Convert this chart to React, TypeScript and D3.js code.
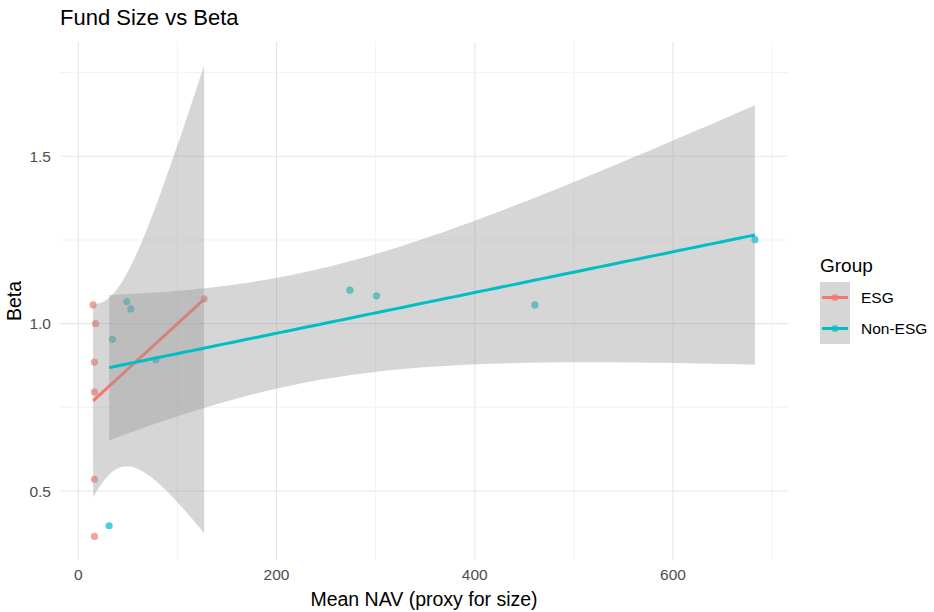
import React, { useEffect, useRef } from 'react';
import * as d3 from 'd3';

// values
const esgNav = [14.9, 17.4, 16.3, 16.3, 16.3, 16.3, 126.9];
const esgBeta = [1.056, 1.0, 0.885, 0.796, 0.535, 0.364, 1.074];
const nonEsgNav = [48.9, 53.0, 34.5, 78.2, 31.1, 274.0, 300.9, 460.6, 682.6];
const nonEsgBeta = [1.066, 1.044, 0.953, 0.892, 0.396, 1.1, 1.083, 1.056, 1.251];

const groups = ['ESG', 'Non-ESG'];
const groupColors = ['#F8766D', '#00BFC4'];
const xTicks = [0, 200, 400, 600];
const xMinor = [100, 300, 500, 700];
const yTicks = [0.5, 1.0, 1.5];
const yMinor = [0.75, 1.25, 1.75];
// 97.5% t quantiles by degrees of freedom
const tQuantile: Record<number, number> = { 5: 2.570582, 7: 2.364624 };

const W = 934;
const H = 612;
const FONT = '"Liberation Sans", Arial, sans-serif';

function lmFit(xs: number[], ys: number[]) {
  const n = xs.length;
  const mx = d3.mean(xs)!;
  const my = d3.mean(ys)!;
  let sxx = 0;
  let sxy = 0;
  xs.forEach((x, i) => {
    sxx += (x - mx) * (x - mx);
    sxy += (x - mx) * (ys[i] - my);
  });
  const b = sxy / sxx;
  const a = my - b * mx;
  let ss = 0;
  xs.forEach((x, i) => {
    const r = ys[i] - (a + b * x);
    ss += r * r;
  });
  const sigma = Math.sqrt(ss / (n - 2));
  const t = tQuantile[n - 2];
  const [x0, x1] = d3.extent(xs) as [number, number];
  // 80 points like geom_smooth
  return d3.range(80).map((i) => {
    const x = x0 + ((x1 - x0) * i) / 79;
    const fit = a + b * x;
    const se = sigma * Math.sqrt(1 / n + ((x - mx) * (x - mx)) / sxx);
    return { x, fit, lo: fit - t * se, hi: fit + t * se };
  });
}

const App = () => {
  const ref = useRef<SVGSVGElement>(null);

  useEffect(() => {
    if (!ref.current) return;
    const svg = d3.select(ref.current);
    svg.selectAll('*').remove();

    const series = [
      { name: groups[0], color: groupColors[0], xs: esgNav, ys: esgBeta },
      { name: groups[1], color: groupColors[1], xs: nonEsgNav, ys: nonEsgBeta },
    ].map((s) => ({ ...s, smooth: lmFit(s.xs, s.ys) }));

    const allX = [...esgNav, ...nonEsgNav];
    const allY = [
      ...esgBeta,
      ...nonEsgBeta,
      ...series.flatMap((s) => s.smooth.flatMap((d) => [d.lo, d.hi])),
    ];
    const [xa, xb] = d3.extent(allX) as [number, number];
    const [ya, yb] = d3.extent(allY) as [number, number];
    const xPad = (xb - xa) * 0.05;
    const yPad = (yb - ya) * 0.05;

    const panel = { left: 60, right: 788, top: 42, bottom: 560 };
    const x = d3.scaleLinear().domain([xa - xPad, xb + xPad]).range([panel.left, panel.right]);
    const y = d3.scaleLinear().domain([ya - yPad, yb + yPad]).range([panel.bottom, panel.top]);

    const grid = svg.append('g');
    grid
      .selectAll('.xminor')
      .data(xMinor)
      .enter()
      .append('line')
      .attr('x1', (d) => x(d))
      .attr('x2', (d) => x(d))
      .attr('y1', panel.top)
      .attr('y2', panel.bottom)
      .attr('stroke', '#EFEFEF')
      .attr('stroke-width', 0.8);
    grid
      .selectAll('.yminor')
      .data(yMinor)
      .enter()
      .append('line')
      .attr('x1', panel.left)
      .attr('x2', panel.right)
      .attr('y1', (d) => y(d))
      .attr('y2', (d) => y(d))
      .attr('stroke', '#EFEFEF')
      .attr('stroke-width', 0.8);
    grid
      .selectAll('.xmajor')
      .data(xTicks)
      .enter()
      .append('line')
      .attr('x1', (d) => x(d))
      .attr('x2', (d) => x(d))
      .attr('y1', panel.top)
      .attr('y2', panel.bottom)
      .attr('stroke', '#E6E6E6')
      .attr('stroke-width', 1.1);
    grid
      .selectAll('.ymajor')
      .data(yTicks)
      .enter()
      .append('line')
      .attr('x1', panel.left)
      .attr('x2', panel.right)
      .attr('y1', (d) => y(d))
      .attr('y2', (d) => y(d))
      .attr('stroke', '#E6E6E6')
      .attr('stroke-width', 1.1);

    // points first, smooths drawn on top
    series.forEach((s) => {
      svg
        .append('g')
        .selectAll('circle')
        .data(s.xs)
        .enter()
        .append('circle')
        .attr('cx', (d) => x(d))
        .attr('cy', (d, i) => y(s.ys[i]))
        .attr('r', 3.6)
        .attr('fill', s.color)
        .attr('fill-opacity', 0.7);
    });

    const area = d3
      .area<{ x: number; lo: number; hi: number }>()
      .x((d) => x(d.x))
      .y0((d) => y(d.lo))
      .y1((d) => y(d.hi));
    const line = d3
      .line<{ x: number; fit: number }>()
      .x((d) => x(d.x))
      .y((d) => y(d.fit));

    series.forEach((s) => {
      svg
        .append('path')
        .attr('d', area(s.smooth))
        .attr('fill', '#999999')
        .attr('fill-opacity', 0.4);
      svg
        .append('path')
        .attr('d', line(s.smooth))
        .attr('fill', 'none')
        .attr('stroke', s.color)
        .attr('stroke-width', 3);
    });

    // axis labels
    svg
      .append('g')
      .selectAll('text')
      .data(xTicks)
      .enter()
      .append('text')
      .attr('x', (d) => x(d))
      .attr('y', 580)
      .attr('text-anchor', 'middle')
      .attr('font-family', FONT)
      .attr('font-size', 15.5)
      .attr('fill', '#4D4D4D')
      .text((d) => d3.format('d')(d));
    svg
      .append('g')
      .selectAll('text')
      .data(yTicks)
      .enter()
      .append('text')
      .attr('x', 51)
      .attr('y', (d) => y(d))
      .attr('dy', '0.36em')
      .attr('text-anchor', 'end')
      .attr('font-family', FONT)
      .attr('font-size', 15.5)
      .attr('fill', '#4D4D4D')
      .text((d) => d3.format('.1f')(d));

    svg
      .append('text')
      .attr('x', (panel.left + panel.right) / 2)
      .attr('y', 606)
      .attr('text-anchor', 'middle')
      .attr('font-family', FONT)
      .attr('font-size', 19.5)
      .attr('fill', '#000')
      .text('Mean NAV (proxy for size)');
    svg
      .append('text')
      .attr('transform', `translate(21,${(panel.top + panel.bottom) / 2}) rotate(-90)`)
      .attr('text-anchor', 'middle')
      .attr('font-family', FONT)
      .attr('font-size', 19.5)
      .attr('fill', '#000')
      .text('Beta');
    svg
      .append('text')
      .attr('x', 60)
      .attr('y', 25)
      .attr('font-family', FONT)
      .attr('font-size', 22)
      .attr('fill', '#000')
      .text('Fund Size vs Beta');

    // legend
    const legend = svg.append('g').attr('transform', 'translate(820,0)');
    legend
      .append('text')
      .attr('x', 0)
      .attr('y', 272)
      .attr('font-family', FONT)
      .attr('font-size', 19)
      .attr('fill', '#000')
      .text('Group');
    const keys = legend
      .selectAll('.key')
      .data(series)
      .enter()
      .append('g')
      .attr('transform', (d, i) => `translate(0,${282 + i * 31})`);
    keys
      .append('rect')
      .attr('width', 30)
      .attr('height', 31)
      .attr('fill', '#999999')
      .attr('fill-opacity', 0.4);
    keys
      .append('circle')
      .attr('cx', 15)
      .attr('cy', 15.5)
      .attr('r', 3.6)
      .attr('fill', (d) => d.color)
      .attr('fill-opacity', 0.7);
    keys
      .append('line')
      .attr('x1', 2)
      .attr('x2', 28)
      .attr('y1', 15.5)
      .attr('y2', 15.5)
      .attr('stroke', (d) => d.color)
      .attr('stroke-width', 3);
    keys
      .append('text')
      .attr('x', 41)
      .attr('y', 15.5)
      .attr('dy', '0.36em')
      .attr('font-family', FONT)
      .attr('font-size', 15.5)
      .attr('fill', '#000')
      .text((d) => d.name);
  }, []);

  return (
    <svg
      ref={ref}
      width={W}
      height={H}
      style={{ position: 'absolute', left: 0, top: 0, background: '#fff' }}
    />
  );
};

export default App;
